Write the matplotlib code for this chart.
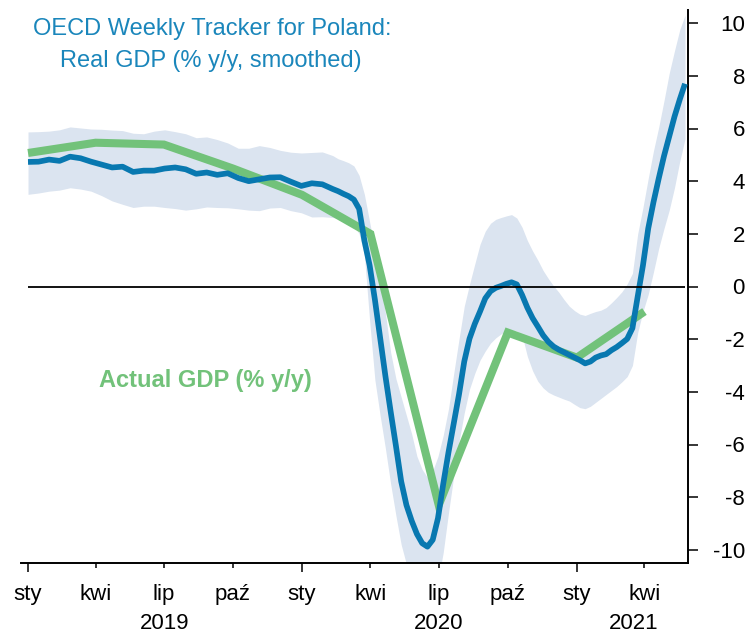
import matplotlib
matplotlib.use('Agg')
import matplotlib.pyplot as plt
import pandas as pd
import numpy as np

plt.rcParams['font.family'] = ['Liberation Sans', 'DejaVu Sans']

# ---- data ----
dates_a = pd.date_range('2019-01-01', periods=30, freq='14D')
dates_b = pd.date_range('2020-02-18', periods=67, freq='7D')

tracker_a = [4.73, 4.74, 4.82, 4.77, 4.93, 4.87, 4.74, 4.63, 4.52, 4.55,
             4.35, 4.40, 4.40, 4.48, 4.52, 4.45, 4.28, 4.33, 4.24, 4.30,
             4.12, 4.00, 4.07, 4.14, 4.15, 3.98, 3.82, 3.92, 3.88, 3.70]
upper_a = [5.87, 5.88, 5.90, 5.95, 6.06, 6.02, 5.98, 5.97, 5.94, 5.92,
           5.82, 5.80, 5.90, 5.95, 5.88, 5.80, 5.65, 5.68, 5.58, 5.45,
           5.25, 5.25, 5.35, 5.28, 5.17, 5.10, 5.07, 5.09, 5.11, 4.97]
lower_a = [3.50, 3.55, 3.62, 3.66, 3.75, 3.70, 3.62, 3.45, 3.25, 3.12,
           3.00, 3.05, 3.05, 3.00, 2.96, 2.90, 2.95, 3.02, 3.00, 2.99,
           2.95, 2.90, 2.88, 2.98, 3.00, 2.88, 2.80, 2.64, 2.65, 2.62]

tracker_b = [3.62, 3.52, 3.43, 3.30, 2.95, 1.75, 0.80, -0.50, -1.95, -3.40,
             -4.75, -6.05, -7.40, -8.30, -8.90, -9.40, -9.75, -9.88, -9.62, -8.80,
             -7.50, -6.30, -5.20, -4.10, -2.85, -1.98, -1.42, -0.95, -0.45, -0.18,
             -0.05, 0.02, 0.10, 0.16, 0.08, -0.32, -0.80, -1.20, -1.52, -1.85,
             -2.10, -2.28, -2.40, -2.50, -2.60, -2.70, -2.80, -2.92, -2.85, -2.70,
             -2.62, -2.57, -2.42, -2.30, -2.15, -1.99, -1.58, -0.38, 0.80, 2.20,
             3.20, 4.10, 4.95, 5.70, 6.45, 7.10, 7.70]
upper_b = [4.85, 4.78, 4.70, 4.58, 4.22, 3.50, 2.45, 1.40, 0.20, -1.00,
           -2.50, -3.50, -4.20, -4.90, -5.60, -6.45, -6.95, -7.25, -7.00, -6.45,
           -5.65, -4.65, -3.30, -2.00, -0.75, 0.08, 0.85, 1.60, 2.10, 2.40,
           2.55, 2.62, 2.68, 2.73, 2.60, 2.25, 1.75, 1.35, 1.00, 0.61,
           0.30, 0.02, -0.22, -0.50, -0.75, -0.92, -1.05, -1.10, -1.02, -0.95,
           -0.90, -0.80, -0.62, -0.42, -0.20, 0.10, 0.50, 2.00, 3.00, 4.10,
           5.15, 6.05, 7.05, 8.10, 8.95, 9.75, 10.30]
lower_b = [2.58, 2.50, 2.40, 2.30, 2.00, 1.20, -1.30, -3.55, -4.90, -6.15,
           -7.50, -8.70, -9.80, -10.55, -11.50, -12.00, -12.20, -12.20, -11.90, -11.20,
           -10.10, -8.60, -7.20, -5.90, -4.80, -3.90, -3.30, -2.80, -2.45, -2.15,
           -1.95, -1.80, -1.70, -1.66, -1.70, -1.85, -2.65, -3.20, -3.60, -3.85,
           -4.02, -4.12, -4.20, -4.28, -4.35, -4.48, -4.60, -4.64, -4.55, -4.40,
           -4.25, -4.10, -3.95, -3.80, -3.62, -3.42, -3.00, -1.75, -0.95, -0.30,
           0.55, 1.45, 2.20, 2.90, 3.75, 4.75, 5.60]

gdp_dates = pd.to_datetime(['2019-01-01', '2019-04-01', '2019-07-01', '2019-10-01',
                            '2020-01-01', '2020-04-01', '2020-07-01', '2020-10-01',
                            '2021-01-01', '2021-04-01'])
gdp_values = [5.07, 5.46, 5.39, 4.48, 3.48, 2.00, -8.30, -1.75, -2.70, -0.95]

year_ticks = pd.to_datetime(['2019-01-01', '2020-01-01', '2021-01-01'])
year_tick_labels = ['sty', 'sty', 'sty']
quarter_ticks = pd.to_datetime(['2019-04-01', '2019-07-01', '2019-10-01',
                                '2020-04-01', '2020-07-01', '2020-10-01',
                                '2021-04-01'])
quarter_tick_labels = ['kwi', 'lip', 'paź', 'kwi', 'lip', 'paź', 'kwi']
year_label_pos = pd.to_datetime(['2019-07-02', '2020-07-01', '2021-03-18'])
year_labels = ['2019', '2020', '2021']
y_ticks = [-10, -8, -6, -4, -2, 0, 2, 4, 6, 8, 10]

dates = dates_a.append(dates_b)
tracker = np.array(tracker_a + tracker_b)
upper = np.array(upper_a + upper_b)
lower = np.array(lower_a + lower_b)

# ---- colours ----
BLUE = '#0878b0'
BAND = '#dbe4f0'
GREEN = '#72c27a'
TITLE_BLUE = '#1a86bb'

fig = plt.figure(figsize=(7.48, 6.34), dpi=100)
ax = fig.add_axes([21/748, 71/634, (688-21)/748, (563-10)/634])

ax.fill_between(dates, lower, upper, color=BAND, lw=0, zorder=1)
ax.plot(gdp_dates, gdp_values, color=GREEN, lw=5.8, solid_capstyle='butt',
        solid_joinstyle='miter', zorder=2)
ax.plot(dates, tracker, color=BLUE, lw=4.1, solid_capstyle='butt',
        solid_joinstyle='round', zorder=3)
ax.hlines(0, dates[0], dates[-1], color='black', lw=1.3, zorder=4)

ax.set_xlim(pd.Timestamp('2018-12-22 16:00'), pd.Timestamp('2021-05-29'))
ax.set_ylim(-10.5, 10.5)

for s in ['left', 'top']:
    ax.spines[s].set_visible(False)
for s in ['right', 'bottom']:
    ax.spines[s].set_linewidth(1.4)

ax.yaxis.tick_right()
ax.set_yticks(y_ticks)
ax.set_yticklabels([str(v) for v in y_ticks])
ax.tick_params(axis='y', direction='out', length=7, width=1.1, pad=34,
               labelsize=16)
for lab in ax.get_yticklabels():
    lab.set_horizontalalignment('right')

ax.set_xticks(year_ticks)
ax.set_xticklabels(year_tick_labels)
ax.set_xticks(quarter_ticks, minor=True)
ax.set_xticklabels(quarter_tick_labels, minor=True)
ax.tick_params(axis='x', which='major', direction='out', length=6.5, width=1.1,
               pad=8.5, labelsize=16)
ax.tick_params(axis='x', which='minor', direction='out', length=3.5, width=1.1,
               pad=11.5, labelsize=16)

for pos, lab in zip(year_label_pos, year_labels):
    ax.text(pos, -0.109, lab, transform=ax.get_xaxis_transform(),
            ha='center', va='center', fontsize=16)

fig.text(212/748, 1 - 29/634, 'OECD Weekly Tracker for Poland:', color=TITLE_BLUE,
         fontsize=17, ha='center', va='center')
fig.text(211/748, 1 - 61/634, 'Real GDP (% y/y, smoothed)', color=TITLE_BLUE,
         fontsize=17, ha='center', va='center')
fig.text(205/748, 1 - 381/634, 'Actual GDP (% y/y)', color=GREEN,
         fontsize=17, fontweight='bold', ha='center', va='center')

fig.savefig('out.png', dpi=100)
